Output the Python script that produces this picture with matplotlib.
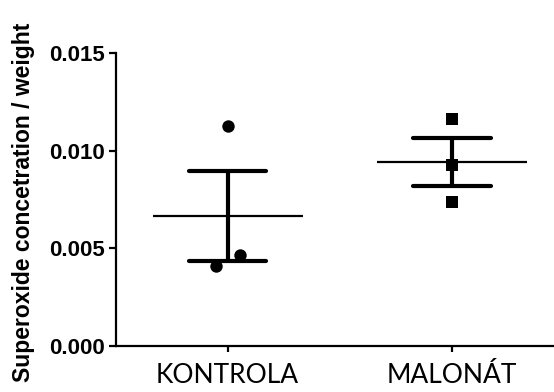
import numpy as np
import matplotlib
matplotlib.use('Agg')
import matplotlib.pyplot as plt

# Hodnoty
categories = ['KONTROLA', 'MALONÁT']
kontrola = [0.00410, 0.00466, 0.01126]
malonat = [0.00736, 0.00927, 0.01160]
kontrola_jitter = [-0.05, 0.054, 0.0]
malonat_jitter = [0.0, 0.0, 0.0]
yticks = [0.000, 0.005, 0.010, 0.015]

fig = plt.figure(figsize=(5.54, 3.92), dpi=100)
ax = fig.add_axes([116 / 554, 46 / 392, 1 - 116 / 554 + 0.01, 293 / 392])

groups = [kontrola, malonat]
jitters = [kontrola_jitter, malonat_jitter]
markers = ['o', 's']

for i, (vals, jit, m) in enumerate(zip(groups, jitters, markers)):
    vals = np.array(vals)
    mean = vals.mean()
    sem = vals.std(ddof=1) / np.sqrt(len(vals))
    # body
    ax.scatter(i + np.array(jit), vals, marker=m, s=80 if m == 'o' else 70,
               color='black', zorder=3, linewidths=0)
    # průměr
    ax.plot([i - 0.334, i + 0.334], [mean, mean], color='black', lw=1.6,
            solid_capstyle='butt', zorder=2)
    # SEM
    ax.plot([i, i], [mean - sem, mean + sem], color='black', lw=3,
            solid_capstyle='butt', zorder=2)
    for y in (mean - sem, mean + sem):
        ax.plot([i - 0.173, i + 0.173], [y, y], color='black', lw=3,
                solid_capstyle='round', zorder=2)

ax.set_xlim(-0.498, 1.48)
ax.set_ylim(0, 0.015)
ax.set_yticks(yticks)
ax.set_yticklabels(['%.3f' % v for v in yticks], fontfamily='Liberation Sans',
                   fontweight='bold', fontsize=16)
ax.set_xticks([0, 1])
ax.set_xticklabels(categories, fontfamily='Lato', fontsize=19)

for s in ['top', 'right']:
    ax.spines[s].set_visible(False)
for s in ['left', 'bottom']:
    ax.spines[s].set_linewidth(1.6)
ax.tick_params(axis='y', length=5, width=1.6, pad=3)
ax.tick_params(axis='x', length=4, width=1.6, pad=8)

ax.set_ylabel('Superoxide concetration / weight', fontfamily='Liberation Sans',
              fontweight='bold', fontsize=16.5)
ax.yaxis.set_label_coords(-0.183, 0.49)

fig.savefig('out.png', dpi=100)
